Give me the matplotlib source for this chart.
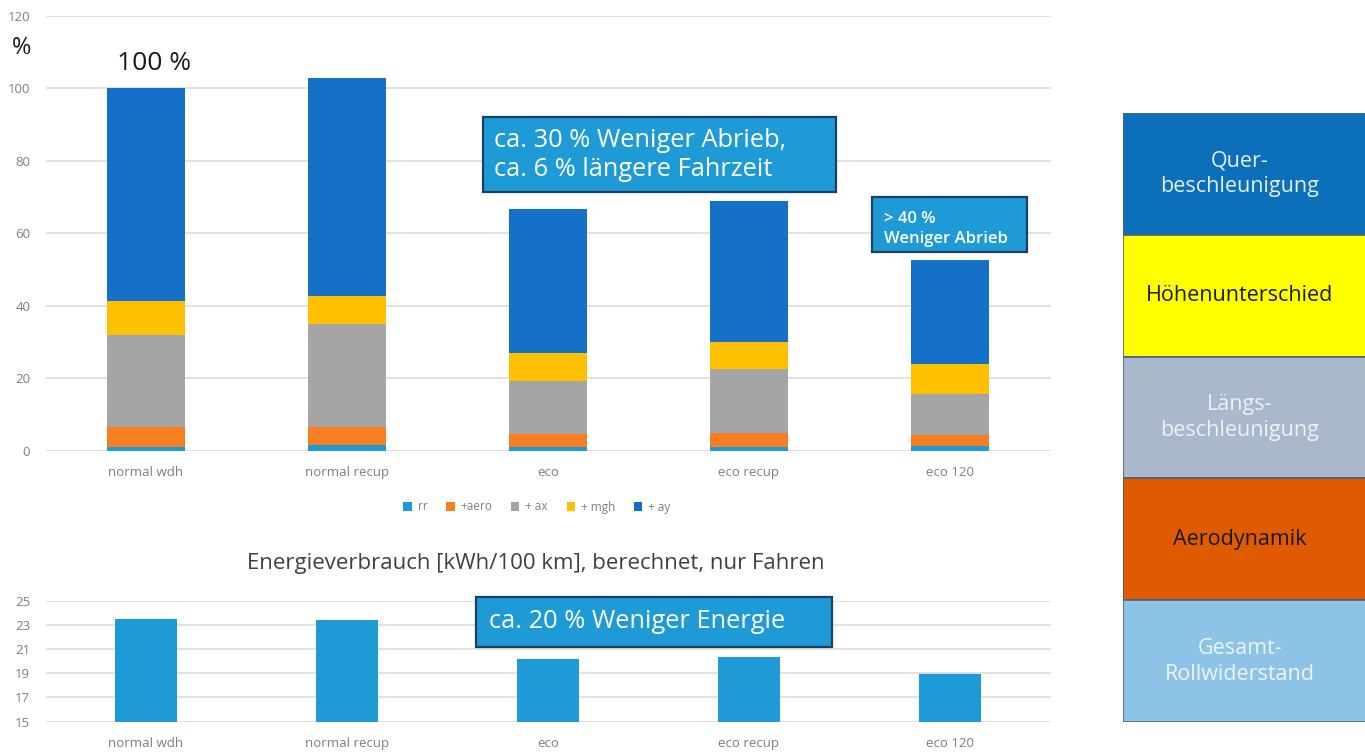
import matplotlib
matplotlib.use("Agg")
import matplotlib.pyplot as plt
import numpy as np
from matplotlib.patches import Rectangle

plt.rcParams['font.family'] = ['Open Sans', 'DejaVu Sans']

# ---- data ----
categories = ["normal wdh", "normal recup", "eco", "eco recup", "eco 120"]
series_names = ["rr", "+aero", "+ ax", "+ mgh", "+ ay"]
rr = [0.9, 1.4, 0.9, 0.9, 1.2]
aero = [5.5, 5.0, 3.7, 3.8, 3.1]
ax_long = [25.6, 28.4, 14.6, 17.7, 11.4]
mgh = [9.4, 7.8, 7.7, 7.5, 8.3]
ay = [58.6, 60.3, 39.8, 39.0, 28.7]
energy = [23.5, 23.4, 20.2, 20.3, 18.9]
top_yticks = [0, 20, 40, 60, 80, 100, 120]
bottom_yticks = [15, 17, 19, 21, 23, 25]
panel_labels = ["Quer-\nbeschleunigung", "Höhenunterschied", "Längs-\nbeschleunigung",
                "Aerodynamik", "Gesamt-\nRollwiderstand"]

series_colors = ["#1E9BD7", "#F77F22", "#A5A5A5", "#FFC000", "#1570C8"]
panel_colors = ["#0B6FB9", "#FFFF00", "#AAB8CB", "#E05A02", "#8EC3E8"]
panel_text_colors = ["#E6EEF6", "#1A1A1A", "#EEF1F5", "#1A1A1A", "#EEF4FA"]

W, H = 1365, 753
fig = plt.figure(figsize=(W / 100, H / 100), dpi=100)
fig.patch.set_facecolor("white")

def fx(px):
    return px / W

def fy(py):
    return 1 - py / H

def fig_box(x0, y0, x1, y1, fc, ec):
    fig.patches.append(Rectangle((fx(x0), fy(y1)), fx(x1) - fx(x0), fy(y0) - fy(y1),
                                 transform=fig.transFigure, facecolor=fc, edgecolor=ec,
                                 lw=1.6, zorder=5))

grid_c = "#DCDCDC"
tick_c = "#7F7F7F"

# ---- top stacked chart ----
ax1 = fig.add_axes([fx(45.5), fy(450.5), fx(1050.5) - fx(45.5), fy(16) - fy(450.5)])
x = np.arange(len(categories))
bottom = np.zeros(len(categories))
handles = []
for name, vals, col in zip(series_names, [rr, aero, ax_long, mgh, ay], series_colors):
    b = ax1.bar(x, vals, width=0.39, bottom=bottom, color=col, label=name, zorder=3)
    handles.append(b)
    bottom += np.array(vals)
ax1.set_xlim(-0.5, len(categories) - 0.5)
ax1.set_ylim(0, 120)
ax1.set_yticks(top_yticks)
ax1.set_xticks(x)
ax1.set_xticklabels(categories)
ax1.yaxis.grid(True, color=grid_c, linewidth=1.2, zorder=0)
for s in ax1.spines.values():
    s.set_visible(False)
ax1.tick_params(axis="both", length=0, colors=tick_c, labelsize=9.5)
ax1.tick_params(axis="x", pad=11)
ax1.tick_params(axis="y", pad=11)

fig.legend(handles, series_names, loc="center", bbox_to_anchor=(fx(537), fy(507)),
           ncol=5, frameon=False, fontsize=8.5, handlelength=0.7, handleheight=0.7,
           handletextpad=0.5, columnspacing=1.6, labelcolor=tick_c)

fig.text(fx(22), fy(48), "%", fontsize=17, ha="center", va="center", color="#1A1A1A")
ax1.annotate("100 %", xy=(0, 100), xytext=(0.04, 107.0), textcoords="data",
             fontsize=19, ha="center", va="center", color="#1A1A1A")

box_face = "#1E9BD7"
box_edge = "#1F3F5F"
fig_box(483, 117, 836, 192, box_face, box_edge)
fig.text(fx(494), fy(155), "ca. 30 % Weniger Abrieb,\nca. 6 % längere Fahrzeit",
         fontsize=18.3, color="white", ha="left", va="center", linespacing=1.2, zorder=6)
fig_box(872, 197, 1027, 252, box_face, box_edge)
fig.text(fx(884), fy(229), "> 40 %\nWeniger Abrieb",
         fontsize=12, fontweight="semibold", color="white", ha="left", va="center",
         linespacing=1.3, zorder=6)

# ---- bottom energy chart ----
ax2 = fig.add_axes([fx(45.5), fy(721.7), fx(1050.5) - fx(45.5), fy(600.5) - fy(721.7)])
ax2.bar(x, [e - 15 for e in energy], bottom=15, width=0.31, color="#1E9BD7", zorder=3)
ax2.set_xlim(-0.5, len(categories) - 0.5)
ax2.set_ylim(15, 25)
ax2.set_yticks(bottom_yticks)
ax2.set_xticks(x)
ax2.set_xticklabels(categories)
ax2.yaxis.grid(True, color=grid_c, linewidth=1.2, zorder=0)
for s in ax2.spines.values():
    s.set_visible(False)
ax2.tick_params(axis="both", length=0, colors=tick_c, labelsize=9.5)
ax2.tick_params(axis="x", pad=11)
ax2.tick_params(axis="y", pad=11)

fig.text(fx(536), fy(564), "Energieverbrauch [kWh/100 km], berechnet, nur Fahren",
         fontsize=16, color="#404040", ha="center", va="center")
fig_box(476, 597, 832, 647, box_face, box_edge)
fig.text(fx(489), fy(622), "ca. 20 % Weniger Energie",
         fontsize=18.3, color="white", ha="left", va="center", zorder=6)

# ---- right colour panel ----
ax3 = fig.add_axes([fx(1123), fy(722), fx(1380) - fx(1123), fy(113) - fy(722)])
ax3.set_xlim(0, 1)
ax3.set_ylim(0, len(panel_labels))
ax3.axis("off")
n = len(panel_labels)
for i, (lab, col, tc) in enumerate(zip(panel_labels, panel_colors, panel_text_colors)):
    yb = n - 1 - i
    ax3.add_patch(Rectangle((0, yb), 1, 1, facecolor=col, edgecolor="#50607A", lw=1.2))
    ax3.text(0.455, yb + 0.5, lab, ha="center", va="center", fontsize=15.5,
             color=tc, linespacing=1.3)

fig.savefig("out.png", dpi=100, facecolor="white")
